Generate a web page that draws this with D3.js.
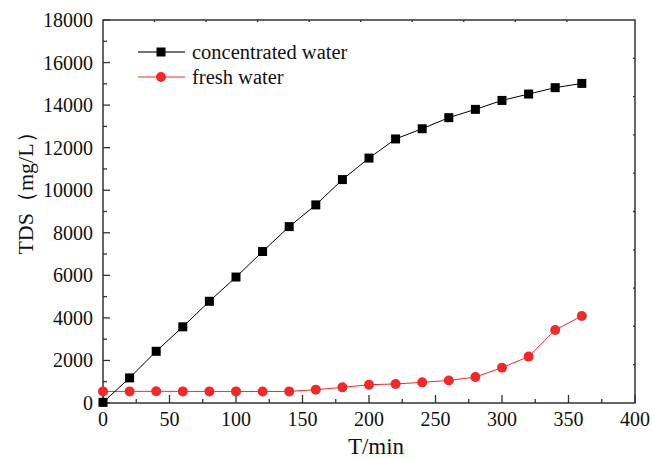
<!DOCTYPE html>
<html>
<head>
<meta charset="utf-8">
<script src="https://cdn.jsdelivr.net/npm/d3@7"></script>
<style>
  html, body { margin: 0; padding: 0; background: #fff; }
  svg { display: block; }
</style>
</head>
<body>
<svg id="chart" width="652" height="459"></svg>
<script>
// Time (min) at each sampling point
const times = [0, 20, 40, 60, 80, 100, 120, 140, 160, 180, 200, 220, 240, 260, 280, 300, 320, 340, 360];
// TDS of the concentrated stream (mg/L)
const concentrated = [30, 1180, 2430, 3580, 4780, 5920, 7120, 8290, 9310, 10500, 11510, 12410, 12890, 13410, 13800, 14220, 14520, 14820, 15020];
// TDS of the fresh stream (mg/L)
const fresh = [545, 545, 550, 545, 545, 545, 540, 545, 625, 735, 860, 895, 970, 1060, 1220, 1660, 2180, 3430, 4090];

const seriesNames = ["concentrated water", "fresh water"];
const xTicks = [0, 50, 100, 150, 200, 250, 300, 350, 400];
const yTicks = [0, 2000, 4000, 6000, 8000, 10000, 12000, 14000, 16000, 18000];
const xTitle = "T/min";
const yTitle = "TDS（mg/L）";

const FONT = "'Liberation Serif', 'Times New Roman', serif";
const W = 652, H = 459;
const m = { left: 103, right: 17, top: 20, bottom: 56 };
const svg = d3.select("#chart");

const x = d3.scaleLinear().domain([0, 400]).range([m.left, W - m.right]);
const y = d3.scaleLinear().domain([0, 18000]).range([H - m.bottom, m.top]);

const axisColor = "#333";
const x0 = m.left, x1 = W - m.right, y0 = H - m.bottom, y1 = m.top;

// frame
svg.append("rect")
  .attr("x", x0).attr("y", y1).attr("width", x1 - x0).attr("height", y0 - y1)
  .attr("fill", "none").attr("stroke", axisColor).attr("stroke-width", 1.5);

// minor tick values (halfway between majors)
const xMinor = d3.range(25, 400, 50);
const yMinor = d3.range(1000, 18000, 2000);

const ticks = svg.append("g").attr("stroke", axisColor).attr("stroke-width", 1.3);
// bottom axis ticks (inward)
ticks.selectAll(".xmaj").data(xTicks).enter().append("line")
  .attr("x1", d => x(d)).attr("x2", d => x(d)).attr("y1", y0).attr("y2", y0 - 8);
ticks.selectAll(".xmin").data(xMinor).enter().append("line")
  .attr("x1", d => x(d)).attr("x2", d => x(d)).attr("y1", y0).attr("y2", y0 - 4);
// left axis ticks (inward)
ticks.selectAll(".ymaj").data(yTicks).enter().append("line")
  .attr("x1", x0).attr("x2", x0 + 7).attr("y1", d => y(d)).attr("y2", d => y(d));
ticks.selectAll(".ymin").data(yMinor).enter().append("line")
  .attr("x1", x0).attr("x2", x0 + 4).attr("y1", d => y(d)).attr("y2", d => y(d));

// small ticks on the top and right edges
const topTicks = d3.range(1, 10).map(i => i * 38.75);
ticks.selectAll(".tt").data(topTicks).enter().append("line")
  .attr("x1", d => x(d)).attr("x2", d => x(d)).attr("y1", y1).attr("y2", y1 + 2);
const rightTicks = d3.range(1, 10).map(i => i * 1800);
ticks.selectAll(".rt").data(rightTicks).enter().append("line")
  .attr("x1", x1).attr("x2", x1 - 2).attr("y1", d => y(d)).attr("y2", d => y(d));

// tick labels
svg.append("g").selectAll("text").data(xTicks).enter().append("text")
  .attr("x", d => x(d)).attr("y", y0 + 23)
  .attr("font-family", FONT).attr("fill", "#111")
  .attr("text-anchor", "middle").attr("font-size", 20).text(d => d);
svg.append("g").selectAll("text").data(yTicks).enter().append("text")
  .attr("x", x0 - 10).attr("y", d => y(d) + 7)
  .attr("font-family", FONT).attr("fill", "#111")
  .attr("text-anchor", "end").attr("font-size", 20).text(d => d);

// axis titles
svg.append("text").attr("x", 376).attr("y", 454)
  .attr("font-family", FONT).attr("fill", "#111")
  .attr("text-anchor", "middle").attr("font-size", 23).text(xTitle);
svg.append("text")
  .attr("transform", "translate(33,188) rotate(-90)")
  .attr("font-family", FONT).attr("fill", "#111")
  .attr("text-anchor", "middle").attr("font-size", 22).text(yTitle);

// series
const conc = times.map((t, i) => ({ t, v: concentrated[i] }));
const frsh = times.map((t, i) => ({ t, v: fresh[i] }));
const line = d3.line().x(d => x(d.t)).y(d => y(d.v));

const red = "#ee2a2a";

svg.append("path").datum(frsh).attr("d", line)
  .attr("fill", "none").attr("stroke", red).attr("stroke-width", 1);
svg.append("path").datum(conc).attr("d", line)
  .attr("fill", "none").attr("stroke", "#000").attr("stroke-width", 1);

const sq = 9;
svg.append("g").selectAll("rect").data(conc).enter().append("rect")
  .attr("x", d => x(d.t) - sq / 2).attr("y", d => y(d.v) - sq / 2)
  .attr("width", sq).attr("height", sq).attr("fill", "#000");
svg.append("g").selectAll("circle").data(frsh).enter().append("circle")
  .attr("cx", d => x(d.t)).attr("cy", d => y(d.v)).attr("r", 5).attr("fill", red);

// legend
const legend = svg.append("g");
const legY = [52, 77];
legend.append("line").attr("x1", 138).attr("x2", 185).attr("y1", legY[0]).attr("y2", legY[0])
  .attr("stroke", "#444").attr("stroke-width", 1.3);
legend.append("rect").attr("x", 161 - sq / 2).attr("y", legY[0] - sq / 2)
  .attr("width", sq).attr("height", sq).attr("fill", "#000");
legend.append("line").attr("x1", 138).attr("x2", 185).attr("y1", legY[1]).attr("y2", legY[1])
  .attr("stroke", red).attr("stroke-width", 1);
legend.append("circle").attr("cx", 161).attr("cy", legY[1]).attr("r", 5).attr("fill", red);
legend.selectAll("text").data(seriesNames).enter().append("text")
  .attr("x", 192).attr("y", (d, i) => legY[i] + 6.5)
  .attr("font-family", FONT).attr("fill", "#111")
  .attr("font-size", 20.5).text(d => d);
</script>
</body>
</html>
